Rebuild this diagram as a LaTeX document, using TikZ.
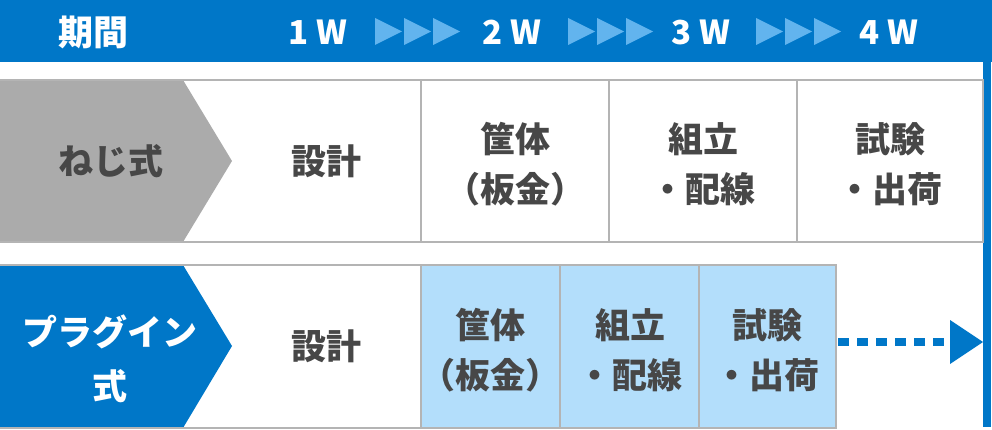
\documentclass[tikz,border=0pt]{standalone}
\usepackage{fontspec}
\setmainfont{Noto Sans CJK JP}

\definecolor{mainblue}{HTML}{0077C8}
\definecolor{lightblue}{HTML}{B3DEFB}
\definecolor{triblue}{HTML}{62B4EE}
\definecolor{chevgray}{HTML}{ABABAB}
\definecolor{linegray}{HTML}{B4B4B4}
\definecolor{txtgray}{HTML}{474747}

\tikzset{
  cellline/.style={draw=linegray,line width=2pt},
  celltext/.style={text=txtgray,font=\fontsize{35}{50}\selectfont\bfseries,align=center},
  labeltext/.style={text=white,font=\fontsize{35}{54}\selectfont\bfseries,align=center},
  weektext/.style={text=white,font=\fontsize{33}{40}\selectfont\bfseries},
  flowline/.style={draw=mainblue,line width=8pt,dash pattern=on 10.5pt off 8.5pt},
}

\begin{document}
\begin{tikzpicture}[x=1pt,y=-1pt]
    \useasboundingbox (0,0) rectangle (992,430);

    \fill[mainblue] (0,0) rectangle (992,62);
    \fill[mainblue] (983,62) rectangle (991,427);

    \node[labeltext] (period) at (93,32) {期間};
    \node[weektext] (w1) at (318,32) {1 W};
    \node[weektext] (w2) at (512,32) {2 W};
    \node[weektext] (w3) at (701,32) {3 W};
    \node[weektext] (w4) at (889,32) {4 W};

    \foreach \x in {375,568,756}
      \foreach \d in {0,29,58}
        \fill[triblue] (\x+\d,18) -- (\x+\d+27,31.5) -- (\x+\d,45) -- cycle;

    \fill[chevgray] (0,80) -- (183,80) -- (232,161) -- (183,242) -- (0,242) -- cycle;
    \draw[cellline] (0,80) -- (983,80) -- (983,242) -- (0,242);
    \draw[cellline] (421,80) -- (421,242);
    \draw[cellline] (609,80) -- (609,242);
    \draw[cellline] (797,80) -- (797,242);

    \node[labeltext,text=txtgray] (screw) at (111,161) {ねじ式};
    \node[celltext] (s1) at (326,161) {設計};
    \node[celltext] (s2) at (515,164) {筐体\\（板金）};
    \node[celltext] (s3) at (703,164) {組立\\・配線};
    \node[celltext] (s4) at (890,164) {試験\\・出荷};

    \fill[lightblue] (421,265) rectangle (836,428);
    \fill[mainblue] (0,265) -- (183,265) -- (232,346) -- (183,428) -- (0,428) -- cycle;
    \draw[cellline] (0,265) -- (836,265) -- (836,428) -- (0,428);
    \draw[cellline] (421,265) -- (421,428);
    \draw[cellline] (560,265) -- (560,428);
    \draw[cellline] (699,265) -- (699,428);

    \node[labeltext] (plugin) at (110,359) {プラグイン\\式};
    \node[celltext] (p1) at (326,346) {設計};
    \node[celltext] (p2) at (490,350) {筐体\\（板金）};
    \node[celltext] (p3) at (630,350) {組立\\・配線};
    \node[celltext] (p4) at (767,350) {試験\\・出荷};

    \coordinate (arrS) at (838,342);
    \coordinate (arrB) at (950,342);
    \coordinate (arrE) at (983,342);
    \draw[flowline] (arrS) -- (arrB);
    \fill[mainblue] (950,320) -- (arrE) -- (950,364) -- cycle;

  \end{tikzpicture}
\end{document}
